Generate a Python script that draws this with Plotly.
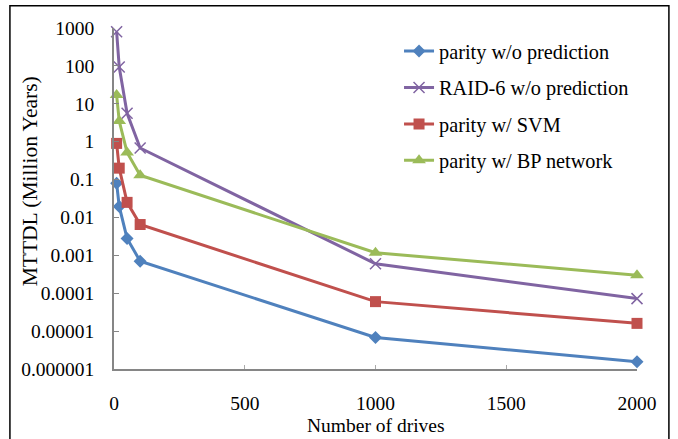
import plotly.graph_objects as go

drives = [10, 20, 50, 100, 1000, 2000]
parity_wo = [0.08, 0.0195, 0.0028, 0.0007, 0.0000068, 0.00000155]
raid6_wo = [800, 93, 5.6, 0.68, 0.0006, 0.000072]
parity_svm = [0.9, 0.2, 0.025, 0.0065, 0.00006, 0.000016]
parity_bp = [17, 3.5, 0.52, 0.13, 0.00117, 0.0003]

series = [
    ("parity w/o prediction", parity_wo, "#4F81BD", "diamond", 10),
    ("RAID-6 w/o prediction", raid6_wo, "#8064A2", "x-thin", 11),
    ("parity w/ SVM", parity_svm, "#C0504D", "square", 11),
    ("parity w/ BP network", parity_bp, "#9BBB59", "triangle-up", 12),
]

ytickvals = [1e-6, 1e-5, 1e-4, 1e-3, 1e-2, 1e-1, 1, 10, 100, 1000]
yticktext = ["0.000001", "0.00001", "0.0001", "0.001", "0.01", "0.1", "1", "10", "100", "1000"]
xtickvals = [0, 500, 1000, 1500, 2000]
x_title = "Number of drives"
y_title = "MTTDL (Million Years)"

fig = go.Figure()
for i, (name, vals, color, sym, size) in enumerate(series):
    marker = dict(symbol=sym, size=size, color=color)
    if sym == "x-thin":
        marker["line"] = dict(color=color, width=1.5)
    fig.add_trace(go.Scatter(
        x=drives, y=vals, name=name, mode="lines+markers",
        line=dict(color=color, width=3), marker=marker,
        legendgroup=str(i), cliponaxis=False,
    ))

FAM = "Liberation Serif"
TF = dict(family=FAM, size=19.5, color="black")
LF = dict(family=FAM, size=20.3, color="black")
YTF = dict(family=FAM, size=21.5, color="black")
fig.update_layout(
    width=678, height=439,
    margin=dict(l=114, r=41, t=28, b=70),
    paper_bgcolor="white", plot_bgcolor="white",
    font=TF,
    showlegend=True,
    legend=dict(x=0.545, y=0.99, xanchor="left", yanchor="top",
                bgcolor="rgba(0,0,0,0)", tracegroupgap=7, traceorder="grouped",
                font=LF),
    xaxis=dict(range=[0, 2000], tickvals=xtickvals, showgrid=False, zeroline=False,
               showline=True, linecolor="#868686", linewidth=1.5,
               ticks="inside", ticklen=4, tickcolor="#AAAAAA", tickwidth=1,
               tickfont=TF, ticklabelstandoff=16, automargin=False),
    yaxis=dict(type="log", range=[-6, 3], tickvals=ytickvals, ticktext=yticktext,
               showgrid=False, zeroline=False, showline=True, linecolor="#868686",
               linewidth=1.5, ticks="inside", ticklen=5, tickcolor="#868686", tickwidth=1,
               tickfont=TF, ticklabelstandoff=14, automargin=False),
    shapes=[dict(type="rect", xref="paper", yref="paper",
                 x0=-0.199, x1=1.061, y0=-0.35, y1=1.065,
                 line=dict(color="black", width=1.5), fillcolor="rgba(0,0,0,0)")],
    annotations=[
        dict(text=x_title, xref="paper", yref="paper", x=0.501, y=-0.165,
             xanchor="center", yanchor="middle", showarrow=False, font=TF),
        dict(text=y_title, xref="paper", yref="paper", x=-0.159, y=0.55,
             xanchor="center", yanchor="middle", textangle=-90, showarrow=False, font=YTF),
    ],
)

fig.write_html("out.html")
